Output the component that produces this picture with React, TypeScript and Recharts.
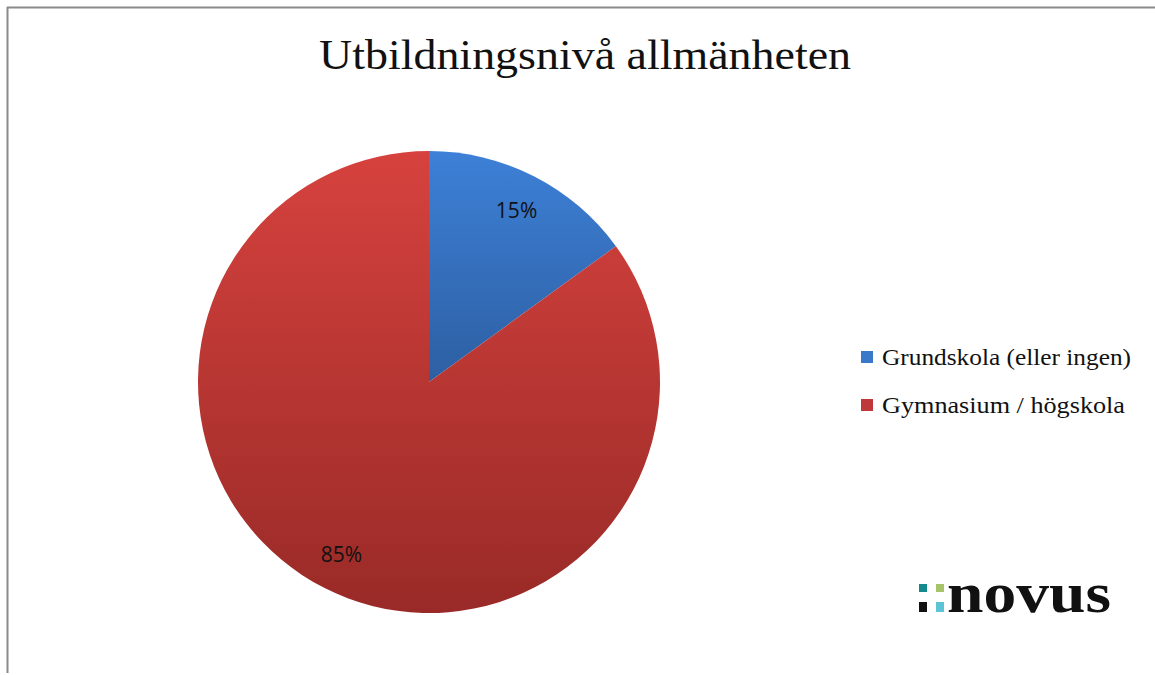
import { Pie, PieChart, Cell } from "recharts";

const educationLevels = ["Grundskola (eller ingen)", "Gymnasium / högskola"];
const shares = [15, 85];
const sliceColors = ["#3a78c9", "#c0393a"];
const legendWidths = [249, 243];

const pieData = educationLevels.map((name, i) => ({ name, value: shares[i] }));

const RADIAN = Math.PI / 180;

function SliceLabel(props: any) {
    const { cx, cy, midAngle, outerRadius, value } = props;
    const r = outerRadius * 0.835;
    const x = cx + r * Math.cos(-midAngle * RADIAN);
    const y = cy + r * Math.sin(-midAngle * RADIAN);
    return (
        <text
            x={x}
            y={y}
            textAnchor="middle"
            dominantBaseline="central"
            fontFamily="'Open Sans', 'Liberation Sans', sans-serif"
            fontSize={21}
            fill="#111"
        >
            {value}%
        </text>
    );
}

export default function App() {
    return (
        <div style={{ position: "absolute", left: 0, top: 0, width: 1155, height: 675, background: "#fff" }}>
            <PieChart width={1155} height={675} margin={{ top: 0, right: 0, bottom: 0, left: 0 }}>
                <defs>
                    <linearGradient id="gradBlue" gradientUnits="userSpaceOnUse" x1="0" y1="152" x2="0" y2="612">
                        <stop offset="0" stopColor="#3d80d7" />
                        <stop offset="0.5" stopColor="#2d5fa2" />
                        <stop offset="1" stopColor="#24497e" />
                    </linearGradient>
                    <linearGradient id="gradRed" gradientUnits="userSpaceOnUse" x1="0" y1="152" x2="0" y2="612">
                        <stop offset="0" stopColor="#d6423e" />
                        <stop offset="1" stopColor="#992a27" />
                    </linearGradient>
                </defs>
                <Pie
                    data={pieData}
                    dataKey="value"
                    nameKey="name"
                    cx={429}
                    cy={382}
                    outerRadius={231}
                    startAngle={90}
                    endAngle={-270}
                    stroke="none"
                    label={SliceLabel}
                    labelLine={false}
                    isAnimationActive={false}
                >
                    <Cell fill="url(#gradBlue)" />
                    <Cell fill="url(#gradRed)" />
                </Pie>
            </PieChart>
            <svg
                width={1155}
                height={675}
                style={{ position: "absolute", left: 0, top: 0, pointerEvents: "none" }}
            >
                {/* frame */}
                <line x1={7.5} y1={7} x2={7.5} y2={673} stroke="#8a8a8a" strokeWidth={2} />
                <line x1={7} y1={7.5} x2={1155} y2={7.5} stroke="#8a8a8a" strokeWidth={2} />
                <text
                    x={585}
                    y={69}
                    textAnchor="middle"
                    fontFamily="'Liberation Serif', 'DejaVu Serif', serif"
                    fontSize={42}
                    fill="#111"
                    textLength={532}
                    lengthAdjust="spacingAndGlyphs"
                >
                    Utbildningsnivå allmänheten
                </text>
                {/* legend */}
                {educationLevels.map((name, i) => (
                    <g key={name}>
                        <rect x={861} y={351 + i * 48} width={12} height={12} fill={sliceColors[i]} />
                        <text
                            x={882}
                            y={365 + i * 48}
                            fontFamily="'Liberation Serif', 'DejaVu Serif', serif"
                            fontSize={23}
                            fill="#111"
                            textLength={legendWidths[i]}
                            lengthAdjust="spacingAndGlyphs"
                        >
                            {name}
                        </text>
                    </g>
                ))}
                {/* logo */}
                <rect x={919} y={584} width={8} height={8} fill="#138a8c" />
                <rect x={936} y={584} width={8} height={8} fill="#a8c46a" />
                <rect x={919} y={602} width={8} height={10} fill="#111" />
                <rect x={936} y={602} width={8} height={10} fill="#5cc4d4" />
                <text
                    x={947}
                    y={612}
                    fontFamily="'Liberation Serif', 'DejaVu Serif', serif"
                    fontWeight="bold"
                    fontSize={58}
                    fill="#111"
                    textLength={164}
                    lengthAdjust="spacingAndGlyphs"
                >
                    novus
                </text>
            </svg>
        </div>
    );
}
